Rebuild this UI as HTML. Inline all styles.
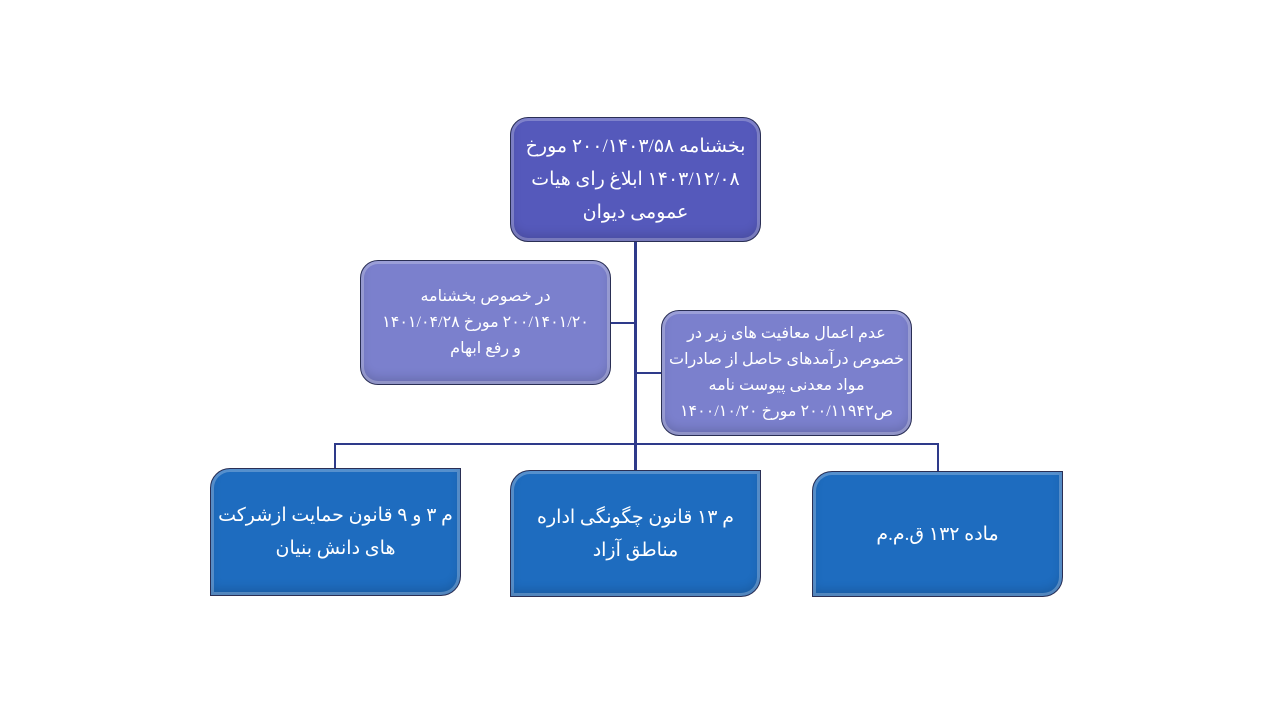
<!DOCTYPE html>
<html><head><meta charset="utf-8"><style>
body{margin:0;width:1272px;height:715px;background:#fff;position:relative;overflow:hidden;font-family:"Liberation Serif","Noto Serif CJK SC","DejaVu Sans",serif}
.b{position:absolute;box-sizing:border-box;border:1.5px solid #2a2f55;color:#fff;display:flex;align-items:center;justify-content:center;text-align:center;direction:rtl;box-shadow:inset 0 0 0 3px rgba(255,255,255,0.25), inset 0 -6px 10px rgba(0,0,0,0.15)}
.t{background:#5559bb;border-radius:18px;font-size:19px;line-height:33px}
.s{background:#7b80cd;border-radius:18px;font-size:16px;line-height:26px}
.bt{background:#1e6cbf;border-radius:20px 0 20px 0;font-size:19px;line-height:33px}
.l{position:absolute;background:#2e3a8a}
</style></head><body>
<div class="l" style="left:634px;top:242px;width:3px;height:228px"></div>
<div class="l" style="left:334px;top:443px;width:605px;height:2px"></div>
<div class="l" style="left:334px;top:443px;width:2px;height:26px"></div>
<div class="l" style="left:937px;top:443px;width:2px;height:28px"></div>
<div class="l" style="left:610px;top:322px;width:25px;height:2px"></div>
<div class="l" style="left:636px;top:372px;width:26px;height:2px"></div>
<div class="b t" style="left:510px;top:117px;width:251px;height:125px">بخشنامه ۲۰۰/۱۴۰۳/۵۸ مورخ<br>۱۴۰۳/۱۲/۰۸ ابلاغ رای هیات<br>عمومی دیوان</div>
<div class="b s" style="left:360px;top:260px;width:251px;height:125px">در خصوص بخشنامه<br>۲۰۰/۱۴۰۱/۲۰ مورخ ۱۴۰۱/۰۴/۲۸<br>و رفع ابهام</div>
<div class="b s" style="left:661px;top:310px;width:251px;height:126px">عدم اعمال معافیت های زیر در<br>خصوص درآمدهای حاصل از صادرات<br>مواد معدنی پیوست نامه<br>ص۲۰۰/۱۱۹۴۲ مورخ ۱۴۰۰/۱۰/۲۰</div>
<div class="b bt" style="left:210px;top:468px;width:251px;height:128px">م ۳ و ۹ قانون حمایت ازشرکت<br>های دانش بنیان</div>
<div class="b bt" style="left:510px;top:470px;width:251px;height:127px">م ۱۳ قانون چگونگی اداره<br>مناطق آزاد</div>
<div class="b bt" style="left:812px;top:471px;width:251px;height:126px">ماده ۱۳۲ ق.م.م</div>
</body></html>
